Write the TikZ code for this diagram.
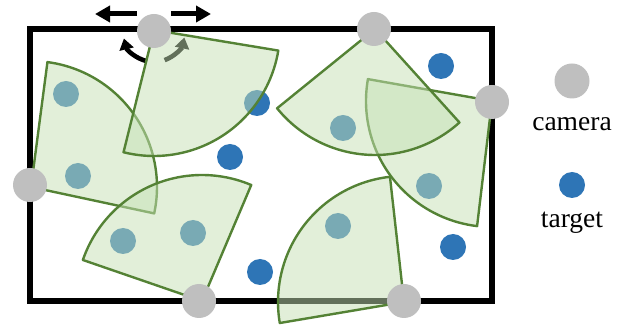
\documentclass[tikz,border=0pt]{standalone}
\usepackage{fontspec}
\setmainfont{Liberation Serif}
\usetikzlibrary{arrows.meta}
\definecolor{fovfill}{HTML}{C5E0B4}
\definecolor{fovline}{HTML}{548235}
\definecolor{tgtblue}{HTML}{2E75B6}
\definecolor{camgray}{HTML}{BFBFBF}
\begin{document}
\begin{tikzpicture}[x=1pt,y=1pt,
  fov/.style={draw=fovline, line width=2.4pt, fill=fovfill, fill opacity=0.5, line join=round},
  camera/.style={circle, fill=camgray, minimum size=34pt, inner sep=0pt},
  target/.style={circle, fill=tgtblue, minimum size=26pt, inner sep=0pt},
  motion/.style={line width=5pt, -{Triangle[length=15pt,width=16pt]}},
  turn/.style={line width=4.6pt, -{Triangle[length=11pt,width=14pt]}},
  lbl/.style={font=\fontsize{27.5}{30}\selectfont, anchor=base}]
\useasboundingbox (0,0) rectangle (623,326);

% camera positions
\coordinate (camA) at (154,295);
\coordinate (camD) at (374,297);
\coordinate (camE) at (492,224);
\coordinate (camB) at (30,141);
\coordinate (camC) at (199,25);
\coordinate (camF) at (404,25);

% room outline
\draw[line width=5.5pt] (30,297) rectangle (492,25);

% targets
\node[target] (t1) at (441,260) {};
\node[target] (t2) at (257,223) {};
\node[target] (t3) at (230,169) {};
\node[target] (t4) at (453,79) {};
\node[target] (t5) at (260,54) {};
\node[target] (t6) at (66,232) {};
\node[target] (t7) at (78,150) {};
\node[target] (t8) at (123,85) {};
\node[target] (t9) at (193,93) {};
\node[target] (t10) at (343,198) {};
\node[target] (t11) at (429,140) {};
\node[target] (t12) at (338,100) {};

% pan and rotate arrows of the top-left camera
\coordinate (panL) at (137,312);
\coordinate (panLtip) at (95,312);
\coordinate (panR) at (171,312);
\coordinate (panRtip) at (211,312);
\draw[motion] (panL) -- (panLtip);
\draw[motion] (panR) -- (panRtip);
\draw[turn] (camA) ++(-103:31) arc (-103:-166:31);
\draw[turn] (camA) ++(-70:31) arc (-70:-12:31);

% fields of view
\coordinate (apB) at (31,139);
\coordinate (apA) at (154,296);
\coordinate (apC) at (202,25);
\coordinate (apE) at (492,225);
\coordinate (apD) at (375,297);
\coordinate (apF) at (404,24);
\draw[fov] (apB) -- ++(-12.1:126) arc (-12.1:82.5:126) -- cycle;
\draw[fov] (apA) -- ++(-104:126) arc (-104:-9.4:126) -- cycle;
\draw[fov] (apC) -- ++(67:126) arc (67:161:126) -- cycle;
\draw[fov] (apE) -- ++(170:126) arc (170:263.2:126) -- cycle;
\draw[fov] (apD) -- ++(-141:126) arc (-141:-47.9:126) -- cycle;
\draw[fov] (apF) -- ++(96.4:126) arc (96.4:189.6:126) -- cycle;

% cameras
\node[camera] (cA) at (camA) {};
\node[camera] (cD) at (camD) {};
\node[camera] (cE) at (camE) {};
\node[camera] (cB) at (camB) {};
\node[camera] (cC) at (camC) {};
\node[camera] (cF) at (camF) {};

% legend
\node[camera, minimum size=35pt] (legcam) at (572,245) {};
\node[lbl] (legcamtxt) at (572,195) {camera};
\node[target] (legtgt) at (572,141) {};
\node[lbl] (legtgttxt) at (572,98) {target};
\end{tikzpicture}
\end{document}
